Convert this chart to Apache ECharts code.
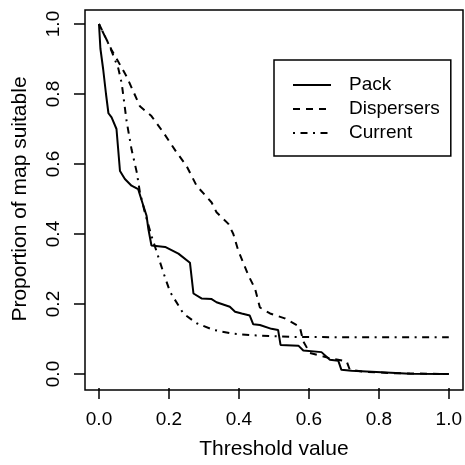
<!DOCTYPE html>
<html>
<head>
<meta charset="utf-8">
<script src="https://cdn.jsdelivr.net/npm/echarts@6/dist/echarts.min.js"></script>
<style>
  html, body { margin: 0; padding: 0; background: #fff; }
  #chart { width: 465px; height: 465px; }
</style>
</head>
<body>
<div id="chart"></div>
<script>
// values
const packX = [0, 0.004, 0.012, 0.02, 0.027, 0.036, 0.05, 0.06, 0.074, 0.093, 0.112, 0.127, 0.136, 0.141, 0.15, 0.189, 0.227, 0.26, 0.27, 0.293, 0.322, 0.336, 0.374, 0.389, 0.408, 0.431, 0.441, 0.46, 0.493, 0.512, 0.519, 0.57, 0.584, 0.636, 0.66, 0.684, 0.693, 0.722, 0.793, 0.889, 1.0]
const packY = [1.0, 0.93, 0.87, 0.8, 0.745, 0.733, 0.7, 0.58, 0.557, 0.538, 0.528, 0.48, 0.452, 0.415, 0.367, 0.363, 0.344, 0.318, 0.23, 0.216, 0.214, 0.205, 0.192, 0.178, 0.173, 0.167, 0.142, 0.14, 0.129, 0.126, 0.083, 0.081, 0.067, 0.0625, 0.041, 0.038, 0.012, 0.009, 0.006, 0.001, 0.0]

const dispX = [0, 0.036, 0.079, 0.117, 0.15, 0.184, 0.222, 0.25, 0.279, 0.322, 0.336, 0.37, 0.384, 0.398, 0.427, 0.446, 0.46, 0.489, 0.531, 0.574, 0.584, 0.603, 0.66, 0.708, 0.717, 0.76, 0.85, 1.0]
const dispY = [1.0, 0.926, 0.85, 0.765, 0.737, 0.69, 0.633, 0.595, 0.538, 0.49, 0.462, 0.429, 0.4, 0.353, 0.282, 0.244, 0.19, 0.173, 0.159, 0.135, 0.093, 0.06, 0.045, 0.036, 0.012, 0.006, 0.002, 0.0]

const currX = [0, 0.031, 0.055, 0.065, 0.079, 0.093, 0.108, 0.117, 0.131, 0.15, 0.165, 0.184, 0.203, 0.241, 0.279, 0.327, 0.384, 0.45, 0.55, 0.7, 1.0]
const currY = [1.0, 0.935, 0.874, 0.83, 0.722, 0.642, 0.576, 0.519, 0.462, 0.395, 0.349, 0.29, 0.235, 0.173, 0.145, 0.126, 0.115, 0.11, 0.106, 0.105, 0.105]

const seriesNames = ['Pack', 'Dispersers', 'Current']
const tickValues = [0, 0.2, 0.4, 0.6, 0.8, 1.0]

const zip = (xs, ys) => xs.map((x, i) => [x, ys[i]])

const font = 'Liberation Sans, Arial, Helvetica, sans-serif'

const chart = echarts.init(document.getElementById('chart'))

// axis line itself is hidden, the frame rect below stands in for it
const axisCommon = {
  type: 'value',
  min: tickValues[0],
  max: tickValues[tickValues.length - 1],
  interval: 0.2,
  offset: 14,
  axisLine: { show: false, onZero: false },
  axisTick: { show: true, length: 11, lineStyle: { color: '#000', width: 1.5 } },
  axisLabel: {
    margin: 22,
    color: '#000',
    fontSize: 19,
    fontFamily: font,
    formatter: v => v.toFixed(1)
  },
  splitLine: { show: false },
  nameLocation: 'middle',
  nameTextStyle: { color: '#000', fontSize: 21, fontFamily: font }
}

function lineSeries(name, data, dash) {
  return {
    name: name,
    type: 'line',
    data: data,
    symbol: 'none',
    clip: false,
    animation: false,
    color: '#000',
    lineStyle: { color: '#000', width: 2, type: dash }
  }
}

chart.setOption({
  animation: false,
  grid: { left: 99, right: 16, top: 24, bottom: 89 },
  xAxis: Object.assign({}, axisCommon, {
    name: 'Threshold value',
    nameGap: 51
  }),
  yAxis: Object.assign({}, axisCommon, {
    name: 'Proportion of map suitable',
    nameGap: 54,
    axisLabel: Object.assign({}, axisCommon.axisLabel, { rotate: 90 })
  }),
  legend: {
    data: seriesNames,
    orient: 'vertical',
    left: 274,
    top: 60,
    padding: [15, 11, 13, 18],
    borderColor: '#000',
    borderWidth: 1.5,
    itemWidth: 38,
    itemHeight: 14,
    itemGap: 4,
    selectedMode: false,
    itemStyle: { opacity: 0 },
    textStyle: { color: '#000', fontSize: 19, fontFamily: font, lineHeight: 20, padding: [0, 0, 0, 13] }
  },
  // plot frame (R box)
  graphic: [{
    type: 'rect',
    shape: { x: 85, y: 10, width: 378, height: 380 },
    style: { fill: 'none', stroke: '#000', lineWidth: 1.5 },
    silent: true
  }],
  series: [
    lineSeries(seriesNames[0], zip(packX, packY), 'solid'),
    lineSeries(seriesNames[1], zip(dispX, dispY), [7, 6]),
    lineSeries(seriesNames[2], zip(currX, currY), [2, 5.5, 7, 5.5])
  ]
})
</script>
</body>
</html>
